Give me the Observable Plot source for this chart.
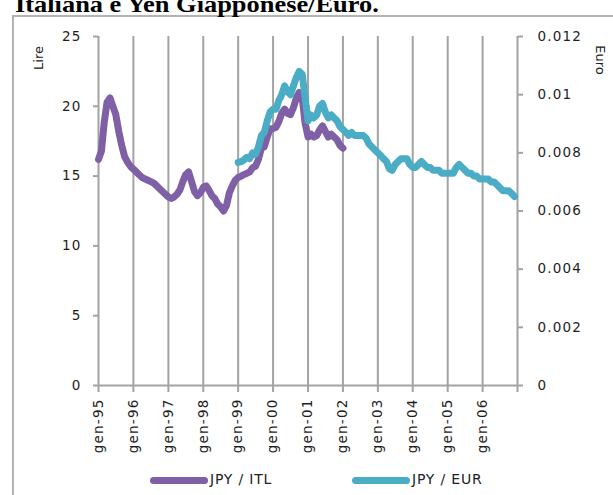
<!DOCTYPE html>
<html>
<head>
<meta charset="utf-8">
<script src="https://cdn.jsdelivr.net/npm/d3@7"></script>
<script src="https://cdn.jsdelivr.net/npm/@observablehq/plot@0.6"></script>
<style>
  html, body { margin: 0; padding: 0; background: #fff; }
  #wrap { position: relative; width: 613px; height: 495px; overflow: hidden; background: #fff; }
  #title { position: absolute; left: 15px; top: -8px; font-family: "Liberation Serif", serif; font-weight: bold; font-size: 24px; line-height: 24px; white-space: nowrap; transform-origin: 0 0; transform: scaleX(1.1); color: #000; }
  #frame { position: absolute; left: 12px; top: 15px; width: 640px; height: 520px; border-left: 2px solid #b3b3b3; border-top: 2px solid #b3b3b3; }
  #chart { position: absolute; left: 0; top: 0; }
  #chart svg text { letter-spacing: 1.2px; }
  .ytitle { position: absolute; font-family: "DejaVu Sans", sans-serif; font-size: 13px; color: #222; white-space: nowrap; }
  #legend { position: absolute; top: 470px; left: 0; width: 613px; height: 20px; font-family: "DejaVu Sans", sans-serif; font-size: 14px; color: #222; }
  .sw { position: absolute; top: 7px; height: 7px; border-radius: 3.5px; }
  .lt { position: absolute; top: 1px; letter-spacing: 0.8px; }
</style>
</head>
<body>
<div id="wrap">
  <div id="frame"></div>
  <div id="title">Italiana e Yen Giapponese/Euro.</div>
  <div id="chart"></div>
  <div class="ytitle" style="left:38px;top:58px;transform:translate(-50%,-50%) rotate(-90deg);">Lire</div>
  <div class="ytitle" style="left:600px;top:60px;transform:translate(-50%,-50%) rotate(90deg);">Euro</div>
  <div id="legend"></div>
</div>
<script>
// ---- data ----
const seriesNames = ["JPY / ITL", "JPY / EUR"];
const seriesColors = ["#7f60a6", "#4bacc6"];

// JPY / ITL, monthly, Jan 1995 .. Jan 2002 (lire per yen)
const itlStart = [1995, 0];
const jpyItl = [
  16.2, 16.8, 18.8, 20.3, 20.6, 20.0, 19.4, 18.2, 17.2, 16.4, 16.0, 15.7,
  15.5, 15.3, 15.1, 14.9, 14.8, 14.7, 14.6, 14.5, 14.3, 14.1, 13.9, 13.7,
  13.5, 13.4, 13.5, 13.7, 14.0, 14.6, 15.1, 15.3, 14.6, 13.9, 13.6, 13.8,
  14.2, 14.3, 14.0, 13.6, 13.4, 13.0, 12.8, 12.5, 12.9, 13.8, 14.3, 14.7,
  14.9, 15.0, 15.1, 15.2, 15.3, 15.6, 15.7, 16.2, 17.0, 17.1, 17.8, 18.4,
  18.4, 18.5, 18.9, 19.5, 19.8, 19.5, 19.4, 19.9, 20.6, 21.0, 20.6, 18.8,
  17.8, 18.0, 17.8, 17.9, 18.3, 18.6, 18.2, 17.8, 18.0, 17.8, 17.6, 17.2,
  17.0
];

// JPY / EUR, monthly, Jan 1999 .. Dec 2006 (euro per yen)
const eurStart = [1999, 0];
const jpyEur = [
  0.00767, 0.00770, 0.00775, 0.00785, 0.00780, 0.00800, 0.00795, 0.00820, 0.00860, 0.00870, 0.00910, 0.00940,
  0.00950, 0.00950, 0.00980, 0.01000, 0.01030, 0.01010, 0.01000, 0.01030, 0.01060, 0.01080, 0.01070, 0.00990,
  0.00910, 0.00930, 0.00920, 0.00930, 0.00960, 0.00970, 0.00940, 0.00920, 0.00930, 0.00920, 0.00910, 0.00890,
  0.00880, 0.00870, 0.00860, 0.00870, 0.00860, 0.00860, 0.00860, 0.00860, 0.00850, 0.00830, 0.00820, 0.00810,
  0.00800, 0.00790, 0.00780, 0.00770, 0.00745, 0.00740, 0.00760, 0.00770, 0.00780, 0.00780, 0.00780, 0.00760,
  0.00750, 0.00750, 0.00760, 0.00770, 0.00760, 0.00750, 0.00750, 0.00740, 0.00740, 0.00740, 0.00730, 0.00730,
  0.00730, 0.00730, 0.00730, 0.00750, 0.00760, 0.00750, 0.00740, 0.00730, 0.00730, 0.00720, 0.00720, 0.00710,
  0.00710, 0.00710, 0.00710, 0.00700, 0.00700, 0.00690, 0.00680, 0.00670, 0.00670, 0.00670, 0.00660, 0.00650
];

// axes
const xYears = [1995, 1996, 1997, 1998, 1999, 2000, 2001, 2002, 2003, 2004, 2005, 2006];
const xLabels = ["gen-95", "gen-96", "gen-97", "gen-98", "gen-99", "gen-00", "gen-01", "gen-02", "gen-03", "gen-04", "gen-05", "gen-06"];
const xEndYear = 2007;
const leftTicks = [0, 5, 10, 15, 20, 25];
const leftMax = 25;
const rightTicks = [0, 0.002, 0.004, 0.006, 0.008, 0.01, 0.012];
const rightLabels = ["0", "0.002", "0.004", "0.006", "0.008", "0.01", "0.012"];
const rightMax = 0.012;

// ---- build ----
const ymd = (y, m) => new Date(Date.UTC(y, m, 1));
const itlData = jpyItl.map((v, i) => ({date: ymd(itlStart[0], itlStart[1] + i), v}));
const eurData = jpyEur.map((v, i) => ({date: ymd(eurStart[0], eurStart[1] + i), v: v * leftMax / rightMax}));
const yearDates = xYears.map(y => ymd(y, 0));
const gridDates = xYears.slice(1).map(y => ymd(y, 0));
const rightPos = rightTicks.map(t => t * leftMax / rightMax);
const axisGray = "#a3a3a3";

const chart = Plot.plot({
  width: 613,
  height: 460,
  marginLeft: 98,
  marginRight: 96,
  marginTop: 36,
  marginBottom: 75,
  style: {fontFamily: "DejaVu Sans, sans-serif", fontSize: "13.5px", color: "#1e1e1e", background: "transparent"},
  x: {type: "utc", domain: [ymd(xYears[0], 0), ymd(xEndYear, 0)]},
  y: {domain: [0, leftMax]},
  marks: [
    Plot.ruleX(gridDates, {y1: 0, y2: leftMax, stroke: axisGray, strokeWidth: 2}),
    Plot.ruleX([ymd(xYears[0], 0), ymd(xEndYear, 0)], {y1: 0, y2: leftMax, stroke: axisGray, strokeWidth: 2}),
    Plot.ruleY([0], {stroke: axisGray, strokeWidth: 2}),
    Plot.axisY({anchor: "left", ticks: leftTicks, tickSize: 5, tickPadding: 12, label: null, stroke: axisGray, strokeWidth: 2}),
    Plot.axisY({anchor: "right", ticks: rightPos, tickFormat: d => rightLabels[Math.round(d / (leftMax / 6))], tickSize: 5, tickPadding: 15, label: null, stroke: axisGray, strokeWidth: 2}),
    Plot.axisX({ticks: yearDates, tickFormat: d => xLabels[d.getUTCFullYear() - xYears[0]], tickRotate: -90, tickSize: 7, tickPadding: 6, label: null, stroke: axisGray, strokeWidth: 2}),
    Plot.axisX({ticks: [ymd(xEndYear, 0)], tickFormat: () => "", tickSize: 7, label: null, stroke: axisGray, strokeWidth: 2}),
    Plot.line(itlData, {x: "date", y: "v", stroke: seriesColors[0], strokeWidth: 7, strokeLinejoin: "round", strokeLinecap: "round"}),
    Plot.line(eurData, {x: "date", y: "v", stroke: seriesColors[1], strokeWidth: 7, strokeLinejoin: "round", strokeLinecap: "round"})
  ]
});
document.getElementById("chart").appendChild(chart);

// legend
const legend = document.getElementById("legend");
const legendPos = [[150, 210], [352, 412]];
seriesNames.forEach((name, i) => {
  const sw = document.createElement("div");
  sw.className = "sw";
  sw.style.left = legendPos[i][0] + "px";
  sw.style.width = "58px";
  sw.style.background = seriesColors[i];
  legend.appendChild(sw);
  const t = document.createElement("div");
  t.className = "lt";
  t.style.left = legendPos[i][1] + "px";
  t.textContent = name;
  legend.appendChild(t);
});
</script>
</body>
</html>
